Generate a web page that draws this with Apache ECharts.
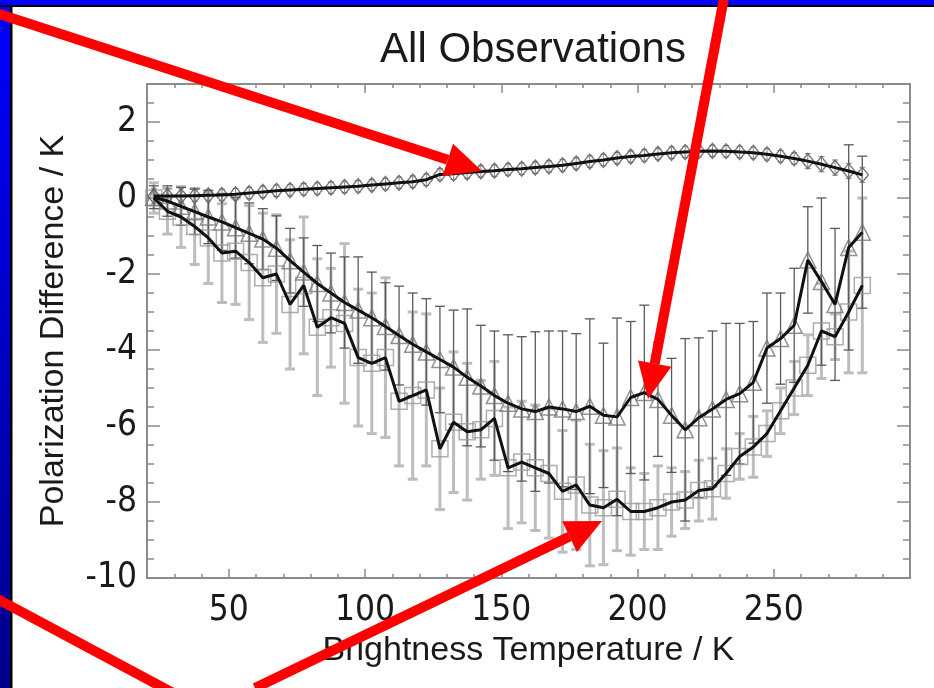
<!DOCTYPE html>
<html><head><meta charset="utf-8">
<script src="https://cdn.jsdelivr.net/npm/echarts@6/dist/echarts.min.js"></script>
<style>html,body{margin:0;padding:0;background:#fff}#c{width:934px;height:688px}</style>
</head><body><div id="c"></div>
<script>
// ---- data ----
const temps = [22.5,27.5,32.5,37.5,42.5,47.5,52.5,57.5,62.5,67.5,72.5,77.5,82.5,87.5,92.5,97.5,102.5,107.5,112.5,117.5,122.5,127.5,132.5,137.5,142.5,147.5,152.5,157.5,162.5,167.5,172.5,177.5,182.5,187.5,192.5,197.5,202.5,207.5,212.5,217.5,222.5,227.5,232.5,237.5,242.5,247.5,252.5,257.5,262.5,267.5,272.5,277.5,282.5];
const diamondPD = [0.05,0.05,0.05,0.06,0.07,0.08,0.10,0.13,0.16,0.19,0.21,0.23,0.25,0.27,0.29,0.31,0.34,0.37,0.40,0.43,0.48,0.62,0.64,0.67,0.70,0.72,0.75,0.77,0.80,0.83,0.86,0.91,0.96,1.00,1.05,1.09,1.12,1.16,1.19,1.21,1.23,1.24,1.23,1.21,1.19,1.15,1.10,1.04,0.97,0.89,0.80,0.71,0.61];
const trianglePD = [0.02,-0.08,-0.22,-0.36,-0.50,-0.63,-0.78,-0.93,-1.08,-1.32,-1.65,-1.95,-2.25,-2.50,-2.75,-2.95,-3.15,-3.38,-3.62,-3.85,-4.05,-4.25,-4.45,-4.72,-4.95,-5.20,-5.40,-5.55,-5.62,-5.50,-5.55,-5.62,-5.48,-5.72,-5.76,-5.25,-5.12,-5.30,-5.72,-6.10,-5.78,-5.55,-5.30,-5.15,-4.85,-3.95,-3.70,-3.35,-1.63,-2.20,-2.80,-1.30,-0.90];
const squarePD = [0.0,-0.35,-0.50,-0.75,-1.05,-1.45,-1.40,-1.70,-2.10,-2.00,-2.80,-2.30,-3.40,-3.15,-3.30,-4.20,-4.35,-4.20,-5.35,-5.20,-5.05,-6.60,-5.90,-6.15,-6.10,-5.80,-7.10,-6.95,-7.10,-7.25,-7.72,-7.55,-8.08,-8.15,-7.93,-8.25,-8.25,-8.15,-8.00,-7.95,-7.70,-7.65,-7.25,-6.80,-6.55,-6.20,-5.60,-5.00,-4.40,-3.50,-3.65,-3.00,-2.30];
const diamondErr = [0.2,0.2,0.2,0.15,0.15,0.15,0.15,0.15,0.15,0.15,0.15,0.15,0.15,0.15,0.15,0.15,0.15,0.15,0.15,0.15,0.15,0.15,0.15,0.15,0.15,0.15,0.15,0.15,0.15,0.15,0.15,0.15,0.15,0.15,0.15,0.15,0.15,0.15,0.15,0.15,0.15,0.15,0.15,0.15,0.15,0.15,0.15,0.15,0.2,0.2,0.2,0.2,0.2];
const triangleErr = [0.3,0.4,0.5,0.6,0.7,0.75,0.8,0.8,0.8,0.85,0.85,0.9,1.0,1.05,1.2,1.4,1.2,1.15,1.3,1.35,1.4,1.4,1.5,1.8,1.6,1.7,1.8,1.9,2.1,2.0,2.05,2.05,2.3,1.9,2.6,2.0,2.3,1.5,1.5,2.4,2.1,2.05,2.0,1.85,1.6,1.45,1.2,1.5,1.4,2.2,2.0,2.7,2.0];
const squareErr = [0.4,0.6,0.8,1.0,1.2,1.3,1.4,1.5,1.7,1.56,1.7,1.8,1.8,1.3,2.1,1.8,1.85,2.1,1.7,2.2,2.0,1.6,1.85,1.8,1.3,1.5,1.6,1.6,1.65,1.7,1.6,1.7,1.6,1.5,1.35,1.15,1.0,1.1,0.9,0.75,0.8,0.8,0.65,0.6,0.8,0.6,0.6,0.7,0.8,1.25,0.6,1.6,2.3];
const xTickValues = [50,100,150,200,250];
const yTickValues = [-10,-8,-6,-4,-2,0,2];

// ---- build ----
const pts = v => temps.map((t,i)=>[t, v[i]]);
const bars = (v,e) => temps.map((t,i)=>[t, v[i]-e[i], v[i]+e[i]]);
function errRender(cap, color, w) {
  return function (params, api) {
    const x = api.value(0);
    const p1 = api.coord([x, api.value(2)]);
    const p2 = api.coord([x, api.value(1)]);
    const st = {stroke: color, lineWidth: w};
    return {type:'group', children:[
      {type:'line', shape:{x1:p1[0],y1:p1[1],x2:p2[0],y2:p2[1]}, style:st},
      {type:'line', shape:{x1:p1[0]-cap,y1:p1[1],x2:p1[0]+cap,y2:p1[1]}, style:st},
      {type:'line', shape:{x1:p2[0]-cap,y1:p2[1],x2:p2[0]+cap,y2:p2[1]}, style:st}
    ]};
  };
}
const gray = '#8c8c8c';
const txt = '#1a1a1a';
const fNarrow = '"Liberation Sans Narrow","Arial Narrow","DejaVu Sans Condensed","Liberation Sans",Arial,sans-serif';
const fReg = '"Liberation Sans",Arial,sans-serif';
const tickStyle = {color: gray, width: 1.5};

function xMajor(pos, labels) {
  return {type:'value', min:20, max:300, position:pos,
    axisLine:{show:true, onZero:false, lineStyle:{color:gray, width:2}},
    axisTick:{show:true, inside:true, length:9, customValues:xTickValues, lineStyle:tickStyle},
    axisLabel:{show:labels, customValues:xTickValues, fontFamily:fNarrow, fontSize:35, color:txt, margin:15},
    splitLine:{show:false},
    name: labels ? 'Brightness Temperature / K' : '', nameLocation:'middle', nameGap:56,
    nameTextStyle:{fontFamily:fReg, fontSize:34, color:txt}};
}
function xMinor(pos) {
  return {type:'value', min:20, max:300, interval:10, position:pos,
    axisLine:{show:false, onZero:false}, axisTick:{show:true, inside:true, length:4, lineStyle:tickStyle},
    axisLabel:{show:false}, splitLine:{show:false}};
}
function yAx(pos, labels) {
  return {type:'value', min:-10, max:3, interval:2, position:pos,
    axisLine:{show:true, onZero:false, lineStyle:{color:gray, width:2}},
    axisTick:{show:true, inside:true, length:13, lineStyle:tickStyle},
    minorTick:{show:true, splitNumber:4, length:7, lineStyle:tickStyle},
    axisLabel:{show:labels, showMaxLabel:false, fontFamily:fNarrow, fontSize:35, color:txt, margin:10},
    splitLine:{show:false},
    name: labels ? 'Polarization Difference / K' : '', nameLocation:'middle', nameGap:76,
    nameTextStyle:{fontFamily:fReg, fontSize:34, color:txt}};
}

const chart = echarts.init(document.getElementById('c'), null, {renderer:'canvas'});
const red = '#ff0000';
function arrow(x0,y0,tx,ty,len,half){
  const dx=tx-x0, dy=ty-y0, L=Math.hypot(dx,dy), ux=dx/L, uy=dy/L;
  const bx=tx-len*ux, by=ty-len*uy, nx=-uy, ny=ux;
  return [
    {type:'line', shape:{x1:x0,y1:y0,x2:bx,y2:by}, style:{stroke:red, lineWidth:10}, z:100},
    {type:'polygon', shape:{points:[[tx,ty],[bx+half*nx,by+half*ny],[bx-half*nx,by-half*ny]]}, style:{fill:red}, z:100}
  ];
}
chart.setOption({
  backgroundColor:'#ffffff',
  animation:false,
  title:{text:'All Observations', left:528, textAlign:'center', top:24,
    textStyle:{fontFamily:fReg, fontSize:42, fontWeight:'normal', color:txt}},
  grid:{left:147, right:24, top:84, bottom:110, containLabel:false},
  xAxis:[xMajor('bottom',true), xMinor('bottom'), xMajor('top',false), xMinor('top')],
  yAxis:[yAx('left',true), yAx('right',false)],
  series:[
    {type:'custom', name:'sqErr', renderItem:errRender(5,'#bdbdbd',3), encode:{x:0,y:[1,2]}, data:bars(squarePD,squareErr), z:1},
    {type:'custom', name:'triErr', renderItem:errRender(5,'#5a5a5a',1.3), encode:{x:0,y:[1,2]}, data:bars(trianglePD,triangleErr), z:2},
    {type:'custom', name:'diaErr', renderItem:errRender(3,'#888',1), encode:{x:0,y:[1,2]}, data:bars(diamondPD,diamondErr), z:2},
    {type:'scatter', name:'sqMk', symbol:'rect', symbolSize:16, data:pts(squarePD),
      itemStyle:{color:'rgba(0,0,0,0)', borderColor:'#9a9a9a', borderWidth:1.5}, z:3},
    {type:'scatter', name:'triMk', symbol:'triangle', symbolSize:16, data:pts(trianglePD),
      itemStyle:{color:'rgba(0,0,0,0)', borderColor:'#777', borderWidth:1.5}, z:3},
    {type:'scatter', name:'diaMk', symbol:'diamond', symbolSize:[12,15], data:pts(diamondPD),
      itemStyle:{color:'rgba(0,0,0,0)', borderColor:'#555', borderWidth:1.4}, z:3},
    {type:'line', name:'sq', data:pts(squarePD), showSymbol:false, symbol:'none', lineStyle:{color:'#111', width:3}, z:5},
    {type:'line', name:'tri', data:pts(trianglePD), showSymbol:false, symbol:'none', lineStyle:{color:'#111', width:3}, z:5},
    {type:'line', name:'dia', data:pts(diamondPD), showSymbol:false, symbol:'none', lineStyle:{color:'#111', width:3}, z:5}
  ],
  graphic:[
    {type:'rect', shape:{x:0,y:0,width:10,height:688}, style:{fill:new echarts.graphic.LinearGradient(0,0,0,1,[{offset:0,color:'#0000ff'},{offset:1,color:'#00008a'}])}, z:90},
    {type:'rect', shape:{x:0,y:0,width:934,height:5}, style:{fill:'#0000ff'}, z:91},
    {type:'rect', shape:{x:10,y:5,width:2.5,height:683}, style:{fill:'#000'}, z:91},
    {type:'rect', shape:{x:0,y:5,width:934,height:2}, style:{fill:'#000'}, z:91},
    ...arrow(-10,11,482,171,36,17),
    ...arrow(724,-2,648,399,36,17),
    ...arrow(255,688,602,521,36,17),
    {type:'line', shape:{x1:-10,y1:595,x2:175,y2:694}, style:{stroke:red, lineWidth:10}, z:100}
  ]
});
</script></body></html>
